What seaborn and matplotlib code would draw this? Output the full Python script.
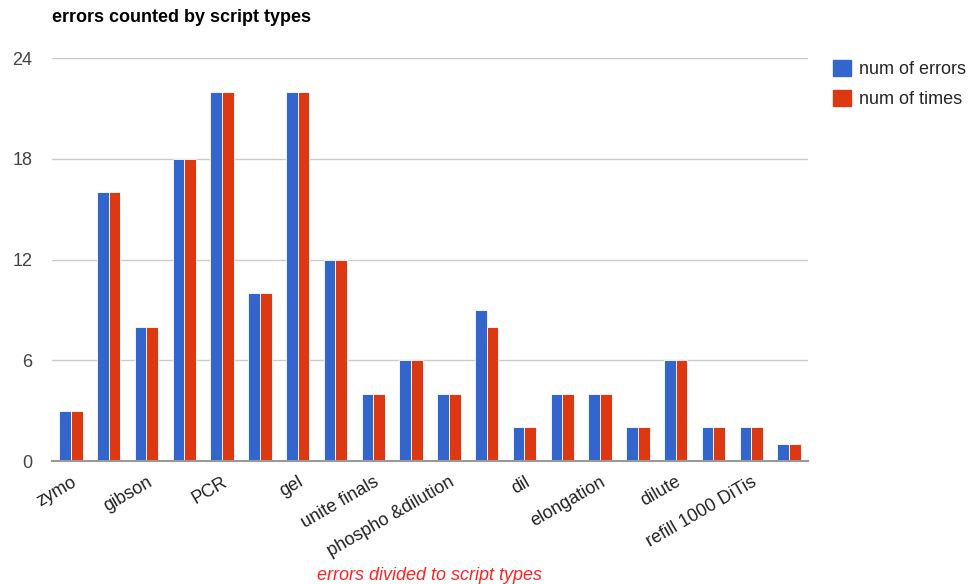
import matplotlib
matplotlib.use("Agg")
import matplotlib.pyplot as plt
import seaborn as sns
import pandas as pd
from matplotlib.patches import Patch

# Labelled script types (every other slot carries a label)
tick_labels = ["zymo", "gibson", "PCR", "gel", "unite finals",
               "phospho &dilution", "dil", "elongation", "dilute",
               "refill 1000 DiTis"]
num_errors = [3, 16, 8, 18, 22, 10, 22, 12, 4, 6, 4, 9, 2, 4, 4, 2, 6, 2, 2, 1]
num_times = [3, 16, 8, 18, 22, 10, 22, 12, 4, 6, 4, 8, 2, 4, 4, 2, 6, 2, 2, 1]
series_names = ["num of errors", "num of times"]
y_ticks = [0, 6, 12, 18, 24]

colors = ["#3366CC", "#DC3912"]

sns.set_theme(style="white")
plt.rcParams["font.family"] = ["Liberation Sans", "DejaVu Sans"]

slots = list(range(len(num_errors)))
df = pd.DataFrame({
    "slot": slots * 2,
    "value": num_errors + num_times,
    "series": [series_names[0]] * len(slots) + [series_names[1]] * len(slots),
})

fig = plt.figure(figsize=(9.68, 5.84), dpi=100)
ax = fig.add_axes([0.0537, 0.2106, 0.781, 0.690])

sns.barplot(data=df, x="slot", y="value", hue="series", palette=colors,
            width=0.62, ax=ax, legend=False, saturation=1,
            edgecolor="white", linewidth=0.6)

ax.set_xlim(-0.5, len(slots) - 0.5)
ax.set_ylim(0, 24)
ax.set_yticks(y_ticks)
ax.set_yticklabels([str(v) for v in y_ticks], color="#444444", fontsize=13)
ax.yaxis.grid(True, color="#cccccc", linewidth=1)
ax.set_axisbelow(True)
ax.tick_params(axis="y", length=0, pad=14)
ax.tick_params(axis="x", length=0, pad=9)

ax.set_xticks(slots[::2])
ax.set_xticklabels(tick_labels, rotation=30, ha="right",
                   rotation_mode="anchor", fontsize=13, color="#222222")

for side in ["top", "right", "left"]:
    ax.spines[side].set_visible(False)
ax.spines["bottom"].set_color("#999999")
ax.spines["bottom"].set_linewidth(1.5)

ax.set_ylabel("")
ax.set_xlabel("errors divided to script types", color="#ff2222",
              fontstyle="italic", fontsize=13)
ax.xaxis.set_label_coords(0.5, -0.262)

fig.text(52 / 968, 1 - 18 / 584, "errors counted by script types",
         fontsize=13, fontweight="bold", color="#000000", va="center")

handles = [Patch(facecolor=c, edgecolor=c) for c in colors]
fig.legend(handles, series_names, loc="upper left",
           bbox_to_anchor=(826 / 968, 1 - 53 / 584), frameon=False,
           fontsize=13, handlelength=1.0, handleheight=1.0,
           handletextpad=0.45, labelspacing=0.65, borderaxespad=0)

fig.savefig("out.png", dpi=100)
